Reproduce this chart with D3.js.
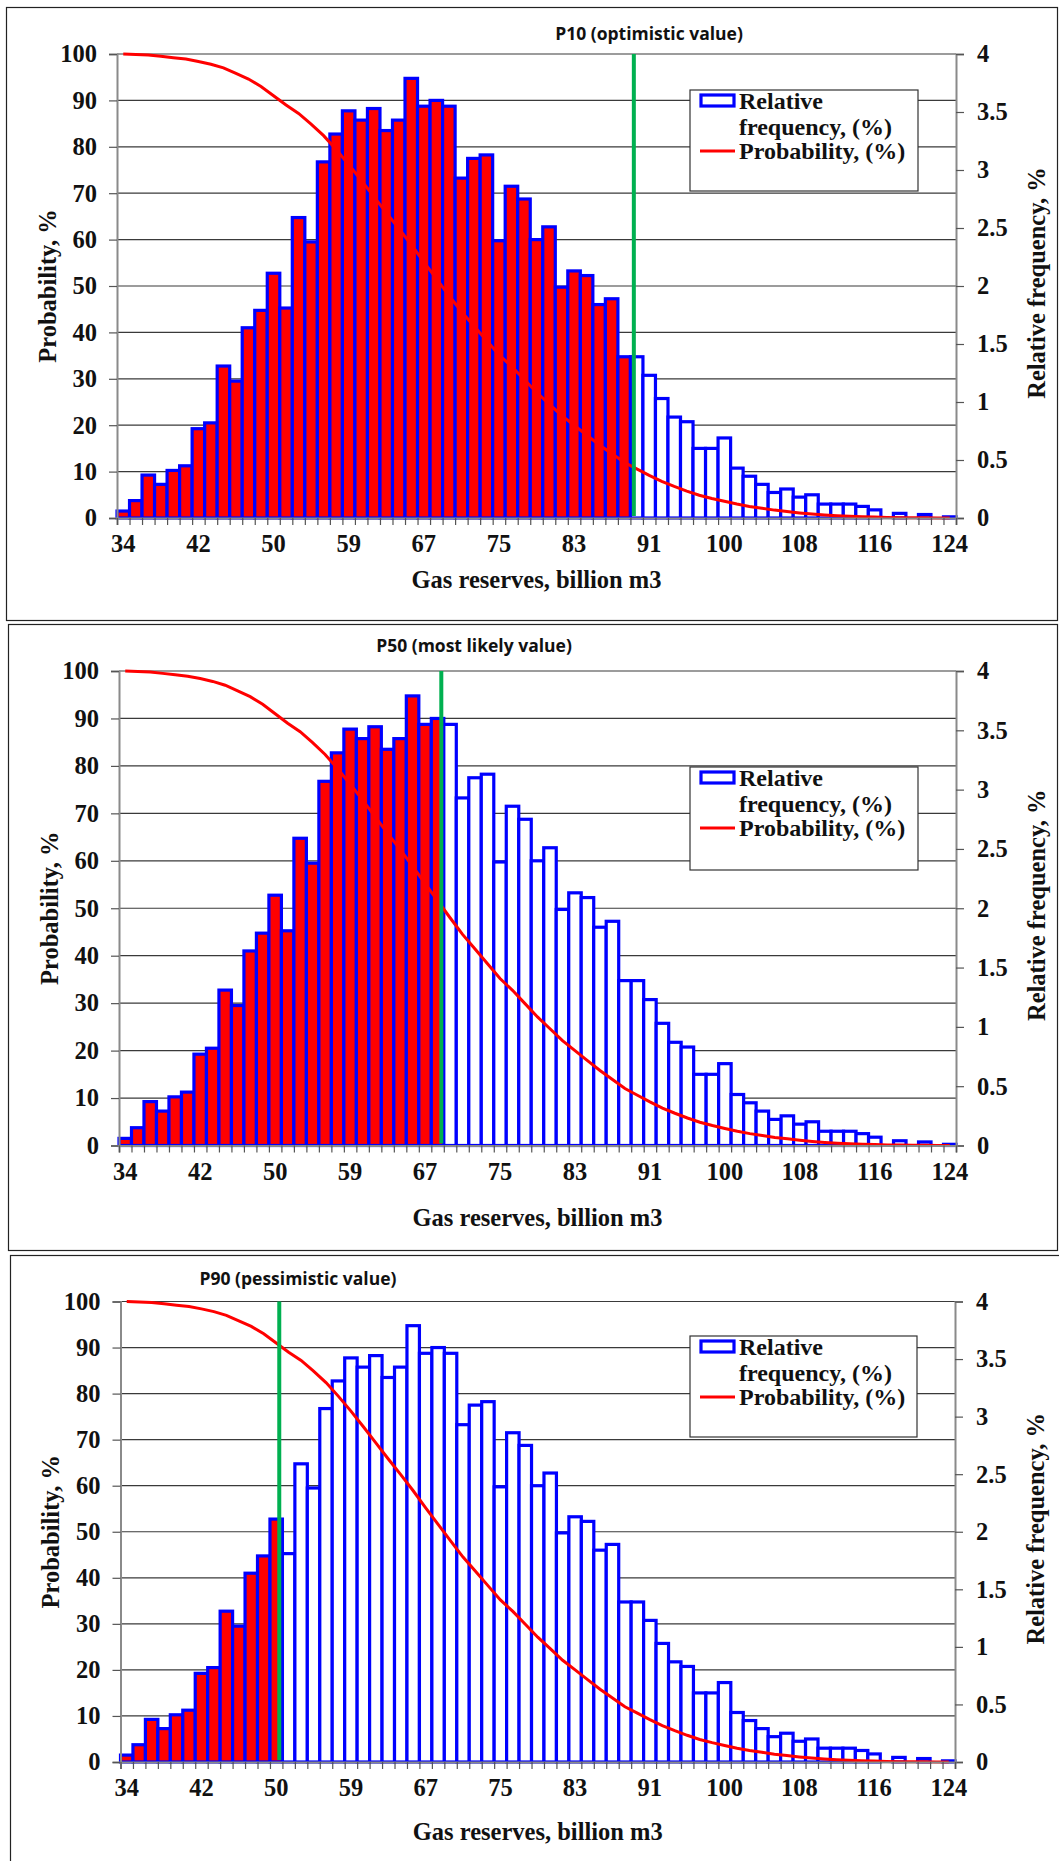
<!DOCTYPE html>
<html>
<head>
<meta charset="utf-8">
<script src="https://cdn.jsdelivr.net/npm/d3@7"></script>
<style>
  body { margin: 0; background: #fff; }
  svg { display: block; }
</style>
</head>
<body>
<svg id="chart" width="1059" height="1861"></svg>
<script>
// Histogram bins of gas reserves, billion m3
const reserves = [
  34.1, 35.4, 36.8, 38.1, 39.5, 40.9, 42.2, 43.6, 45.0, 46.3,
  47.7, 49.1, 50.4, 51.8, 53.2, 54.5, 55.9, 57.3, 58.6, 60.0,
  61.4, 62.7, 64.1, 65.4, 66.8, 68.2, 69.5, 70.9, 72.3, 73.6,
  75.0, 76.4, 77.7, 79.1, 80.5, 81.8, 83.2, 84.6, 85.9, 87.3,
  88.7, 90.0, 91.4, 92.7, 94.1, 95.5, 96.8, 98.2, 99.6, 100.9,
  102.3, 103.7, 105.0, 106.4, 107.8, 109.1, 110.5, 111.9, 113.2, 114.6,
  116.0, 117.3, 118.7, 120.0, 121.4, 122.8, 124.1
];

// Relative frequency of each bin, %
const relFrequency = [
  0.06, 0.15, 0.37, 0.29, 0.41, 0.45, 0.77, 0.82, 1.31, 1.18,
  1.64, 1.79, 2.11, 1.81, 2.59, 2.38, 3.07, 3.31, 3.51, 3.43,
  3.53, 3.34, 3.43, 3.79, 3.55, 3.60, 3.55, 2.93, 3.10, 3.13,
  2.39, 2.86, 2.75, 2.40, 2.51, 1.99, 2.13, 2.09, 1.84, 1.89,
  1.39, 1.39, 1.23, 1.03, 0.87, 0.83, 0.60, 0.60, 0.69, 0.43,
  0.36, 0.29, 0.22, 0.25, 0.18, 0.20, 0.12, 0.12, 0.12, 0.10,
  0.07, 0.00, 0.04, 0.00, 0.03, 0.00, 0.01
];

// Probability of exceeding each bin, %
const probability = [
  100, 99.9, 99.8, 99.5, 99.2, 98.9, 98.4, 97.8, 97.0, 95.8,
  94.6, 93.0, 91.0, 89.0, 87.2, 84.9, 82.4, 79.4, 76.2, 72.8,
  69.3, 65.8, 62.4, 58.9, 55.2, 51.6, 48.0, 44.5, 41.4, 38.3,
  35.2, 32.7, 29.9, 27.1, 24.6, 22.1, 20.0, 17.9, 15.8, 13.9,
  12.0, 10.6, 9.2, 7.9, 6.8, 5.8, 4.9, 4.2, 3.6, 3.0,
  2.5, 2.1, 1.7, 1.4, 1.1, 0.85, 0.65, 0.5, 0.38, 0.28,
  0.2, 0.13, 0.08, 0.05, 0.03, 0.01, 0
];

const probTicks = [0, 10, 20, 30, 40, 50, 60, 70, 80, 90, 100];
const freqTicks = [0, 0.5, 1, 1.5, 2, 2.5, 3, 3.5, 4];
const labelEvery = 6;

// Reserve estimates at the three confidence levels, billion m3
const caseNames = ["P10 (optimistic value)", "P50 (most likely value)", "P90 (pessimistic value)"];
const caseValues = [89.7, 68.6, 50.8];

const legendFreq = ["Relative", "frequency, (%)"];
const legendProb = "Probability, (%)";
const yTitleLeft = "Probability, %";
const yTitleRight = "Relative frequency, %";
const xTitle = "Gas reserves, billion m3";

// Layout of the three stacked panels
const panels = [
  { box: [6.5, 7.5, 1051, 613],    plot: [117, 956, 54, 518],        title: [649, 33],   xTitleGap: 61, legend: [690, 90, 228, 101] },
  { box: [8.5, 624.5, 1049, 626],  plot: [119, 956, 671, 1145.5],    title: [474, 645],  xTitleGap: 72, legend: [690, 767, 228, 103] },
  { box: [10.5, 1255.5, 1050, 610], plot: [120.5, 955, 1301.5, 1762], title: [298, 1278], xTitleGap: 69, legend: [690, 1336, 227, 101] }
];

const serif = "'Liberation Serif', 'Times New Roman', serif";
const svg = d3.select("#chart");

panels.forEach((p, k) => {
  const [x0, x1, y0, y1] = p.plot;
  const g = svg.append("g");

  g.append("rect")
    .attr("x", p.box[0]).attr("y", p.box[1])
    .attr("width", p.box[2]).attr("height", p.box[3])
    .attr("fill", "#fff").attr("stroke", "#222").attr("stroke-width", 1.2);

  const idx = d3.range(reserves.length);
  const xBand = d3.scaleBand().domain(idx).range([x0, x1]).padding(0);
  const xEdge = d3.scaleLinear().domain([0, reserves.length]).range([x0, x1]);
  const bw = xBand.bandwidth();
  const xVal = d3.scaleLinear()
    .domain([reserves[0], reserves[reserves.length - 1]])
    .range([x0 + bw / 2, x1 - bw / 2]);
  const yProb = d3.scaleLinear().domain([0, 100]).range([y1, y0]);
  const yFreq = d3.scaleLinear().domain([0, 4]).range([y1, y0]);

  // horizontal gridlines
  g.append("g").selectAll("line")
    .data(probTicks.filter(t => t > 0))
    .join("line")
    .attr("x1", x0).attr("x2", x1)
    .attr("y1", d => yProb(d)).attr("y2", d => yProb(d))
    .attr("stroke", "#3a3a3a").attr("stroke-width", 1.2);

  // histogram bars
  g.append("g").selectAll("rect")
    .data(idx)
    .join("rect")
    .attr("x", i => xBand(i))
    .attr("width", bw)
    .attr("y", i => yFreq(relFrequency[i]))
    .attr("height", i => y1 - yFreq(relFrequency[i]))
    .attr("fill", i => reserves[i] <= caseValues[k] ? "#ff0000" : "#ffffff")
    .attr("stroke", "#0000ff")
    .attr("stroke-width", i => relFrequency[i] > 0 ? 3.2 : 0);

  // exceedance probability curve
  const line = d3.line()
    .x((d, i) => xBand(i) + bw / 2)
    .y(d => yProb(d));
  g.append("path")
    .datum(probability)
    .attr("d", line)
    .attr("fill", "none")
    .attr("stroke", "#ff0000")
    .attr("stroke-width", 3);

  // confidence level marker
  g.append("line")
    .attr("x1", xVal(caseValues[k])).attr("x2", xVal(caseValues[k]))
    .attr("y1", y0).attr("y2", y1 - 2)
    .attr("stroke", "#00b050").attr("stroke-width", 4);

  g.append("text")
    .attr("x", p.title[0]).attr("y", p.title[1])
    .attr("text-anchor", "middle").attr("dominant-baseline", "central")
    .attr("font-family", "'Open Sans', 'Noto Sans', sans-serif")
    .attr("font-weight", 700).attr("font-size", 17.5)
    .attr("fill", "#111")
    .text(caseNames[k]);

  // left axis
  const axL = g.append("g").attr("transform", `translate(${x0},0)`)
    .call(d3.axisLeft(yProb).tickValues(probTicks).tickSize(8).tickPadding(12));
  // right axis
  const axR = g.append("g").attr("transform", `translate(${x1},0)`)
    .call(d3.axisRight(yFreq).tickValues(freqTicks).tickSize(8).tickPadding(13)
      .tickFormat(d3.format("")));
  // bottom axis: ticks between bins, labels on every sixth bin
  const axB = g.append("g").attr("transform", `translate(0,${y1})`)
    .call(d3.axisBottom(xEdge).tickValues(d3.range(reserves.length + 1)).tickSize(7).tickFormat(""));
  const axBL = g.append("g").attr("transform", `translate(0,${y1})`)
    .call(d3.axisBottom(xBand)
      .tickValues(idx.filter(i => i % labelEvery === 0))
      .tickSize(0).tickPadding(17)
      .tickFormat(i => d3.format(".0f")(reserves[i])));
  axBL.select(".domain").remove();

  [axL, axR, axB].forEach(a => {
    a.select(".domain").attr("stroke", "#8a8a8a").attr("stroke-width", 2);
    a.selectAll(".tick line").attr("stroke", "#555").attr("stroke-width", 1.2);
  });
  [axL, axR, axBL].forEach(a => {
    a.selectAll("text")
      .attr("font-family", serif).attr("font-weight", 700)
      .attr("font-size", 24.5).attr("fill", "#111");
  });
  axR.selectAll("text").attr("text-anchor", "start");

  // axis titles
  g.append("text")
    .attr("transform", `translate(${x0 - 70},${(y0 + y1) / 2}) rotate(-90)`)
    .attr("text-anchor", "middle").attr("dominant-baseline", "central")
    .attr("font-family", serif).attr("font-weight", 700).attr("font-size", 24.5)
    .attr("fill", "#111").text(yTitleLeft);
  g.append("text")
    .attr("transform", `translate(${x1 + 80},${(y0 + y1) / 2 - 3}) rotate(-90)`)
    .attr("text-anchor", "middle").attr("dominant-baseline", "central")
    .attr("font-family", serif).attr("font-weight", 700).attr("font-size", 24.5)
    .attr("fill", "#111").text(yTitleRight);
  g.append("text")
    .attr("x", (x0 + x1) / 2).attr("y", y1 + p.xTitleGap)
    .attr("text-anchor", "middle").attr("dominant-baseline", "central")
    .attr("font-family", serif).attr("font-weight", 700).attr("font-size", 24.5)
    .attr("fill", "#111").text(xTitle);

  // legend
  const [lx, ly, lw, lh] = p.legend;
  const lg = g.append("g").attr("transform", `translate(${lx},${ly})`);
  lg.append("rect").attr("width", lw).attr("height", lh)
    .attr("fill", "#fff").attr("stroke", "#333").attr("stroke-width", 1.2);
  lg.append("rect").attr("x", 11).attr("y", 5).attr("width", 33).attr("height", 11)
    .attr("fill", "#fff").attr("stroke", "#0000ff").attr("stroke-width", 3.2);
  lg.append("line").attr("x1", 10).attr("x2", 45).attr("y1", 61).attr("y2", 61)
    .attr("stroke", "#ff0000").attr("stroke-width", 3);
  const legendText = [[legendFreq[0], 11], [legendFreq[1], 37], [legendProb, 61]];
  lg.selectAll("text.lbl").data(legendText).join("text")
    .attr("class", "lbl")
    .attr("x", 49).attr("y", d => d[1])
    .attr("dominant-baseline", "central")
    .attr("font-family", serif).attr("font-weight", 700).attr("font-size", 24)
    .attr("fill", "#111")
    .text(d => d[0]);
});
</script>
</body>
</html>
